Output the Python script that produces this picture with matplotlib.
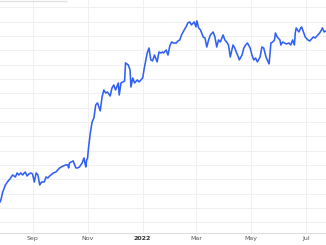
import matplotlib
matplotlib.use("Agg")
import matplotlib.pyplot as plt
import matplotlib.dates as mdates
from matplotlib.lines import Line2D
import numpy as np
import pandas as pd

# days since the start date, and the closing value for that day
start = pd.Timestamp("2021-07-27")
end = pd.Timestamp("2022-07-23")
day = [
    0, 1, 3, 6, 9, 11, 14, 17, 19, 21, 23, 25, 28, 30, 32, 34, 36, 38, 40, 42,
    44, 46, 49, 51, 53, 55, 59, 62, 64, 66, 70, 73, 75, 76, 77, 79, 81, 84, 86, 88,
    91, 93, 94, 95, 96, 97, 98, 100, 102, 104, 106, 108, 111, 113, 115, 117, 119, 122, 124, 126,
    128, 131, 132, 134, 136, 138, 139, 142, 144, 145, 147, 149, 152, 154, 156, 158, 160, 163, 165, 167,
    169, 171, 174, 176, 178, 180, 181, 184, 186, 188, 190, 192, 195, 197, 199, 201, 204, 206, 208, 210,
    212, 215, 217, 218, 220, 222, 225, 227, 229, 231, 233, 236, 238, 240, 242, 244, 247, 249, 251, 253,
    255, 258, 260, 262, 264, 265, 268, 270, 272, 274, 277, 279, 281, 283, 285, 288, 290, 292, 294, 295,
    298, 300, 302, 304, 305, 307, 310, 311, 313, 315, 317, 320, 322, 324, 326, 327, 328, 331, 333, 334,
    336, 338, 341, 343, 345, 347, 349, 352, 354, 356, 357, 359, 361,
]
price = [
    34.2, 35.6, 41.1, 46.0, 48.8, 50.2, 53.0, 51.6, 54.4, 53.0, 54.4, 53.0, 55.1, 52.3, 53.7, 54.4, 53.7, 48.1, 54.4, 53.0,
    46.0, 48.1, 48.1, 51.6, 50.9, 52.3, 54.4, 55.1, 56.5, 57.9, 59.3, 60.0, 60.0, 57.9, 61.4, 62.1, 62.8, 57.9, 57.9, 58.6,
    61.4, 64.9, 61.4, 58.6, 63.5, 64.9, 71.9, 82.3, 90.0, 92.8, 101.9, 103.3, 97.7, 107.4, 112.3, 110.2, 110.9, 108.1, 113.7, 115.8,
    112.3, 117.2, 108.8, 117.2, 117.9, 118.6, 131.2, 129.8, 126.3, 114.4, 120.7, 117.2, 119.3, 117.9, 119.3, 120.7, 128.4, 138.1, 141.6, 133.3,
    132.6, 136.7, 131.9, 138.8, 138.1, 138.8, 138.1, 140.2, 136.7, 143.0, 145.8, 145.1, 145.0, 146.5, 147.2, 150.7, 154.2, 156.3, 159.1, 159.8,
    157.7, 159.8, 156.3, 160.5, 155.6, 154.2, 149.3, 148.6, 142.3, 147.2, 150.7, 152.8, 149.3, 142.3, 147.2, 145.8, 150.7, 147.2, 145.8, 143.7,
    135.3, 143.7, 141.6, 138.1, 135.3, 133.3, 136.7, 141.6, 143.7, 145.1, 141.6, 136.7, 133.3, 134.6, 131.9, 135.3, 142.3, 141.6, 136.7, 134.6,
    130.5, 145.1, 145.8, 147.2, 152.1, 149.3, 147.2, 143.7, 145.8, 145.1, 144.4, 145.1, 143.7, 147.2, 143.7, 152.1, 155.6, 152.8, 155.6, 156.3,
    152.8, 149.3, 147.2, 146.5, 147.9, 149.3, 148.6, 150.7, 152.1, 154.2, 155.6, 152.8, 153.5,
]
dates = start + pd.to_timedelta(day, unit="D")

fig = plt.figure(figsize=(3.26, 2.45), dpi=100)
ax = fig.add_axes([0, 12 / 245, 1, 233 / 245])

ax.plot(dates, price, color="#3160f4", lw=1.15, solid_joinstyle="round")

ax.set_xlim(start, end)
ax.set_ylim(12.5, 175.1)
ax.set_yticks(np.arange(20, 171, 10))
ax.yaxis.set_ticklabels([])
ax.tick_params(axis="y", length=0)

def month_label(x, pos=None):
    d = mdates.num2date(x)
    return str(d.year) if d.month == 1 else d.strftime("%b")

ax.xaxis.set_major_locator(mdates.MonthLocator(bymonth=[1, 3, 5, 7, 9, 11]))
ax.xaxis.set_major_formatter(plt.FuncFormatter(month_label))
ax.tick_params(axis="x", length=0, pad=2.5, labelsize=4.5, labelcolor="#555555")
fig.canvas.draw()
for lab in ax.get_xticklabels():
    if lab.get_text().isdigit():
        lab.set_fontweight("bold")
        lab.set_color("#333333")

ax.grid(True, color="#f0f0f0", lw=0.7)
ax.set_axisbelow(True)
for side in ["top", "left", "right"]:
    ax.spines[side].set_visible(False)
ax.spines["bottom"].set_color("#dcdcdc")
ax.spines["bottom"].set_linewidth(0.8)

# faint bar in the top-left corner
fig.add_artist(Line2D([0, 66 / 326], [0.997, 0.997], color="#e2e2e2", lw=1.0,
                      transform=fig.transFigure))

plt.savefig("out.png", dpi=100)
